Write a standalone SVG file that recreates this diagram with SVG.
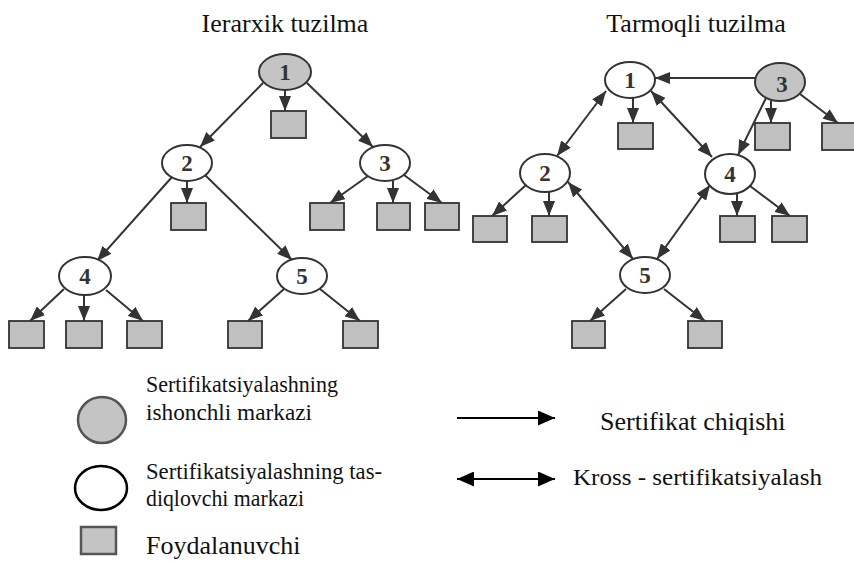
<svg xmlns="http://www.w3.org/2000/svg" width="854" height="561" viewBox="0 0 854 561">
  <style>
    .title { font-family: "Liberation Serif", "Times New Roman", serif; font-size: 26px; fill: #111; }
    .num { font-family: "Liberation Serif", "Times New Roman", serif; font-size: 23px; font-weight: bold; fill: #333; text-anchor: middle; }
    .lg { font-family: "Liberation Serif", "Times New Roman", serif; fill: #111; }
    .ca { fill: #c4c4c4; stroke: #333; stroke-width: 2; }
    .sub { fill: #ffffff; stroke: #333; stroke-width: 2; }
    .usr { fill: #c0c0c0; stroke: #333; stroke-width: 1.8; }
    .ed { stroke: #333; stroke-width: 2; fill: none; marker-end: url(#ah); }
    .x2 { marker-start: url(#ah); }
  </style>
  <defs>
    <marker id="ah" viewBox="0 0 15 12" refX="15" refY="6" markerWidth="15" markerHeight="12" markerUnits="userSpaceOnUse" orient="auto-start-reverse">
      <path d="M0,0 L15,6 L0,12 z" fill="#333"/>
    </marker>
    <marker id="lh" viewBox="0 0 17 15" refX="17" refY="7.5" markerWidth="17" markerHeight="15" markerUnits="userSpaceOnUse" orient="auto-start-reverse">
      <path d="M0,0 L17,7.5 L0,15 z" fill="#000"/>
    </marker>
  </defs>

  <rect width="854" height="561" fill="#ffffff"/>

  <!-- titles -->
  <text class="title" x="285" y="32" text-anchor="middle">Ierarxik tuzilma</text>
  <text class="title" x="696" y="32" text-anchor="middle">Tarmoqli tuzilma</text>

  <!-- connectors -->
  <g id="connectors">
    <!-- hierarchical -->
    <line class="ed" x1="263" y1="83" x2="200" y2="147"/>
    <line class="ed" x1="307" y1="83" x2="373" y2="147"/>
    <line class="ed" x1="285" y1="90" x2="285" y2="111"/>
    <line class="ed" x1="172" y1="177" x2="97" y2="261"/>
    <line class="ed" x1="205" y1="175" x2="292" y2="260"/>
    <line class="ed" x1="187" y1="181" x2="187" y2="203"/>
    <line class="ed" x1="368" y1="176" x2="330" y2="203"/>
    <line class="ed" x1="393" y1="181" x2="393" y2="203"/>
    <line class="ed" x1="404" y1="175" x2="442" y2="203"/>
    <line class="ed" x1="64" y1="289" x2="30" y2="321"/>
    <line class="ed" x1="84" y1="295" x2="84" y2="321"/>
    <line class="ed" x1="106" y1="290" x2="143" y2="321"/>
    <line class="ed" x1="284" y1="289" x2="248" y2="321"/>
    <line class="ed" x1="320" y1="289" x2="360" y2="321"/>
    <!-- network -->
    <line class="ed" x1="755" y1="78" x2="655" y2="78"/>
    <line class="ed x2" x1="606" y1="91" x2="557" y2="156"/>
    <line class="ed x2" x1="651" y1="91" x2="712" y2="157"/>
    <line class="ed" x1="766" y1="98" x2="738" y2="155"/>
    <line class="ed" x1="633" y1="98" x2="633" y2="123"/>
    <line class="ed" x1="771" y1="101" x2="771" y2="123"/>
    <line class="ed" x1="800" y1="94" x2="838" y2="123"/>
    <line class="ed" x1="526" y1="185" x2="492" y2="216"/>
    <line class="ed" x1="549" y1="192" x2="549" y2="216"/>
    <line class="ed x2" x1="568" y1="182" x2="633" y2="259"/>
    <line class="ed x2" x1="710" y1="185" x2="657" y2="259"/>
    <line class="ed" x1="737" y1="194" x2="737" y2="216"/>
    <line class="ed" x1="750" y1="186" x2="790" y2="216"/>
    <line class="ed" x1="626" y1="289" x2="590" y2="321"/>
    <line class="ed" x1="664" y1="289" x2="705" y2="321"/>
  </g>

  <!-- hierarchical nodes -->
  <g id="h1"><ellipse class="ca" cx="285" cy="72" rx="26" ry="18"/><text class="num" x="285" y="80">1</text></g>
  <g id="h2"><ellipse class="sub" cx="187" cy="163" rx="25" ry="18"/><text class="num" x="187" y="171">2</text></g>
  <g id="h3"><ellipse class="sub" cx="385" cy="163" rx="25" ry="18"/><text class="num" x="385" y="171">3</text></g>
  <g id="h4"><ellipse class="sub" cx="85" cy="276" rx="26" ry="19"/><text class="num" x="85" y="284">4</text></g>
  <g id="h5"><ellipse class="sub" cx="302" cy="276" rx="25" ry="18"/><text class="num" x="302" y="284">5</text></g>
  <g id="h1u1"><rect class="usr" x="271" y="111" width="35" height="27"/></g>
  <g id="h2u1"><rect class="usr" x="171" y="203" width="35" height="27"/></g>
  <g id="h3u1"><rect class="usr" x="310" y="203" width="34" height="27"/></g>
  <g id="h3u2"><rect class="usr" x="377" y="203" width="33" height="27"/></g>
  <g id="h3u3"><rect class="usr" x="425" y="203" width="34" height="27"/></g>
  <g id="h4u1"><rect class="usr" x="9" y="321" width="35" height="27"/></g>
  <g id="h4u2"><rect class="usr" x="66" y="321" width="36" height="27"/></g>
  <g id="h4u3"><rect class="usr" x="127" y="321" width="35" height="27"/></g>
  <g id="h5u1"><rect class="usr" x="228" y="321" width="34" height="27"/></g>
  <g id="h5u2"><rect class="usr" x="343" y="321" width="35" height="27"/></g>

  <!-- network nodes -->
  <g id="n1"><ellipse class="sub" cx="630" cy="80" rx="25" ry="18"/><text class="num" x="630" y="88">1</text></g>
  <g id="n3"><ellipse class="ca" cx="780" cy="82" rx="25" ry="19"/><text class="num" x="782" y="92">3</text></g>
  <g id="n2"><ellipse class="sub" cx="545" cy="173" rx="25" ry="19"/><text class="num" x="545" y="181">2</text></g>
  <g id="n4"><ellipse class="sub" cx="730" cy="174" rx="25" ry="20"/><text class="num" x="730" y="182">4</text></g>
  <g id="n5"><ellipse class="sub" cx="645" cy="275" rx="25" ry="18"/><text class="num" x="645" y="283">5</text></g>
  <g id="n1u1"><rect class="usr" x="618" y="123" width="35" height="26"/></g>
  <g id="n3u1"><rect class="usr" x="755" y="123" width="35" height="27"/></g>
  <g id="n3u2"><rect class="usr" x="822" y="123" width="35" height="27"/></g>
  <g id="n2u1"><rect class="usr" x="473" y="216" width="34" height="26"/></g>
  <g id="n2u2"><rect class="usr" x="532" y="216" width="35" height="26"/></g>
  <g id="n4u1"><rect class="usr" x="720" y="216" width="35" height="26"/></g>
  <g id="n4u2"><rect class="usr" x="772" y="216" width="35" height="26"/></g>
  <g id="n5u1"><rect class="usr" x="572" y="321" width="33" height="27"/></g>
  <g id="n5u2"><rect class="usr" x="688" y="321" width="34" height="27"/></g>

  <!-- legend -->
  <g id="legend-ca">
    <ellipse cx="102" cy="420" rx="24" ry="23" fill="#c4c4c4" stroke="#555" stroke-width="2.5"/>
    <text class="lg" x="146" y="392" font-size="24" textLength="192" lengthAdjust="spacingAndGlyphs">Sertifikatsiyalashning</text>
    <text class="lg" x="146" y="420" font-size="24" textLength="166" lengthAdjust="spacingAndGlyphs">ishonchli markazi</text>
  </g>
  <g id="legend-sub">
    <ellipse cx="101" cy="488" rx="26" ry="22" fill="#fff" stroke="#000" stroke-width="2.5"/>
    <text class="lg" x="146" y="479" font-size="24" textLength="236" lengthAdjust="spacingAndGlyphs">Sertifikatsiyalashning tas-</text>
    <text class="lg" x="146" y="506" font-size="24" textLength="158" lengthAdjust="spacingAndGlyphs">diqlovchi markazi</text>
  </g>
  <g id="legend-usr">
    <rect x="81" y="527" width="35" height="27" fill="#c4c4c4" stroke="#555" stroke-width="2.5"/>
    <text class="lg" x="146" y="554" font-size="26">Foydalanuvchi</text>
  </g>
  <g id="legend-issue">
    <line x1="457" y1="418" x2="555" y2="418" stroke="#000" stroke-width="2" marker-end="url(#lh)"/>
    <text class="lg" x="600" y="430" font-size="26">Sertifikat chiqishi</text>
  </g>
  <g id="legend-cross">
    <line x1="457" y1="479" x2="555" y2="479" stroke="#000" stroke-width="2" marker-start="url(#lh)" marker-end="url(#lh)"/>
    <text class="lg" x="573" y="485" font-size="23" textLength="249" lengthAdjust="spacingAndGlyphs">Kross - sertifikatsiyalash</text>
  </g>
</svg>
